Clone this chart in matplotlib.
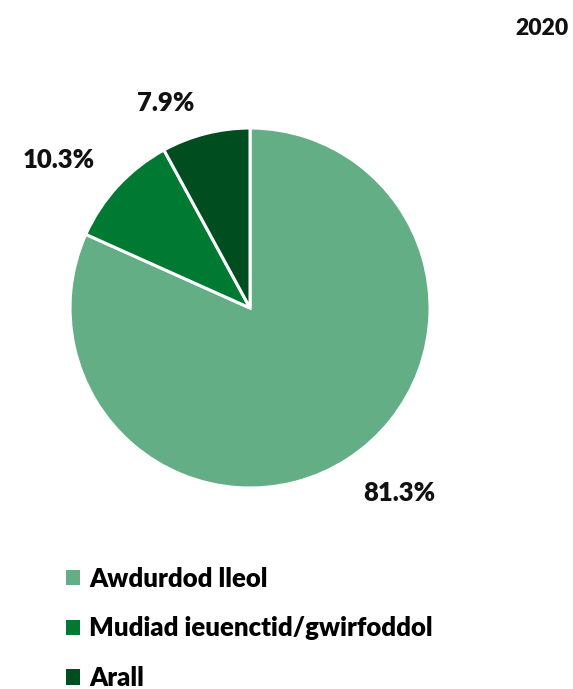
import matplotlib
matplotlib.use("Agg")
import matplotlib.pyplot as plt
from matplotlib.patches import Patch

plt.rcParams['font.family'] = ['Lato', 'DejaVu Sans']

categories = ["Awdurdod lleol", "Mudiad ieuenctid/gwirfoddol", "Arall"]
values = [81.3, 10.3, 7.9]
colors = ["#63ae85", "#007a33", "#004d20"]
year = "2020"

# label positions (data coords, pie radius = 1)
label_pos = [(0.83, -1.03), (-1.06, 0.82), (-0.47, 1.14)]

fig = plt.figure(figsize=(5.73, 6.89), dpi=100)
ax = fig.add_axes([0.1222, 0.2917, 0.6283, 0.5225])
ax.pie(values, colors=colors, startangle=90, counterclock=False,
       wedgeprops=dict(edgecolor="white", linewidth=2.2))
ax.set_xlim(-1, 1)
ax.set_ylim(-1, 1)
ax.set_aspect("equal")

for v, (x, y) in zip(values, label_pos):
    ax.text(x, y, f"{v:.1f}%", ha="center", va="center",
            fontsize=18.5, fontweight="heavy", color="#111111", clip_on=False)

fig.text(0.992, 0.958, year, ha="right", va="center", fontsize=16.5,
         fontweight="heavy", color="#111111")

handles = [Patch(facecolor=c, edgecolor="none") for c in colors]
fig.legend(handles, categories, loc="upper left", bbox_to_anchor=(0.093, 0.196),
           frameon=False, handlelength=0.55, handleheight=0.55,
           handletextpad=0.35, labelspacing=1.0, borderpad=0,
           prop=dict(weight="heavy", size=18.5))

fig.savefig("out.png", dpi=100)
